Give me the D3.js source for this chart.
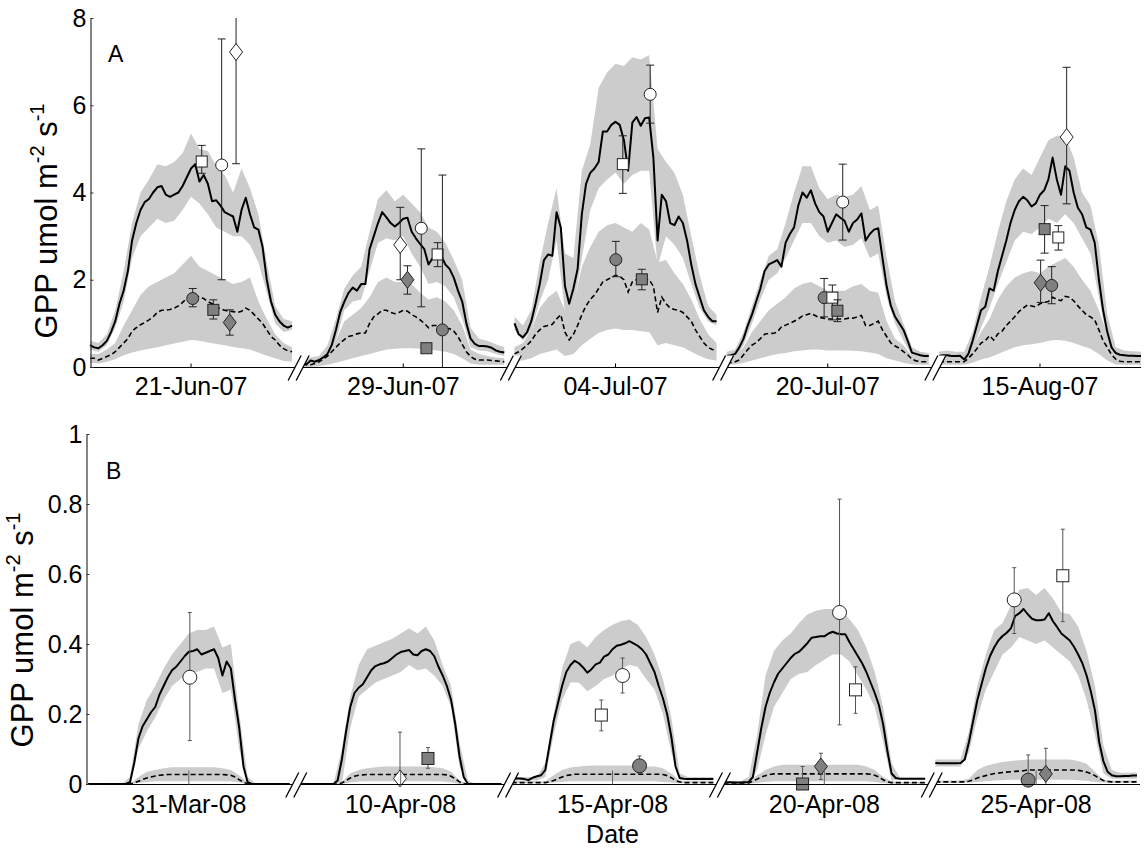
<!DOCTYPE html>
<html>
<head>
<meta charset="utf-8">
<title>GPP diurnal courses</title>
<script src="https://d3js.org/d3.v7.min.js"></script>
<style>
  body { margin: 0; background: #fff; }
  svg { display: block; font-family: "Liberation Sans", Arial, Helvetica, sans-serif; }
</style>
</head>
<body>
<script>
// ---------- data ----------
// half-hourly model output (49 points per day) and hourly envelopes (25 points per day)
var halfHours = d3.range(49).map(function(k) { return k / 2; });
var fullHours = d3.range(25);

var daysA = ["21-Jun-07", "29-Jun-07", "04-Jul-07", "20-Jul-07", "15-Aug-07"];
var daysB = ["31-Mar-08", "10-Apr-08", "15-Apr-08", "20-Apr-08", "25-Apr-08"];
var yTicksA = [0, 2, 4, 6, 8];
var yTicksB = [0, 0.2, 0.4, 0.6, 0.8, 1];

// Panel A - solid line (model 1) and its envelope
var solidA = [
  [0.5,0.45,0.43,0.5,0.6,0.8,1.05,1.45,1.75,2.2,2.9,3.3,3.6,3.78,3.85,4.0,4.12,4.15,3.95,3.9,3.95,4.0,4.15,4.35,4.55,4.65,4.25,4.4,4.2,3.8,3.82,3.7,3.55,3.5,3.45,3.1,3.6,3.88,3.5,3.2,3.15,2.75,2.0,1.5,1.2,1.05,0.95,0.9,0.95],
  [0.12,0.06,0.15,0.12,0.16,0.22,0.3,0.5,0.85,1.25,1.5,1.7,1.82,1.75,1.9,1.9,2.7,3.0,3.3,3.55,3.43,3.3,3.22,3.3,3.4,3.42,3.1,2.95,2.82,2.7,2.35,2.5,2.58,2.55,2.35,2.25,2.05,1.75,1.5,1.0,0.65,0.53,0.48,0.48,0.47,0.44,0.38,0.35,0.33],
  [1.0,0.75,0.68,0.8,1.05,1.45,1.9,2.45,2.58,2.55,3.55,3.2,1.85,1.45,1.8,2.25,3.5,4.2,4.45,4.55,4.7,5.4,5.4,5.55,5.62,5.55,5.2,4.5,5.6,5.73,5.53,5.7,5.72,4.8,2.9,3.95,3.8,3.3,3.25,3.45,3.3,2.9,2.35,1.9,1.6,1.3,1.15,1.05,1.05],
  [0.25,0.27,0.3,0.45,0.65,0.95,1.2,1.5,1.8,2.2,2.35,2.4,2.45,2.3,2.85,3.05,3.2,3.7,4.0,3.88,4.05,3.75,3.55,3.45,3.1,3.3,3.5,3.42,3.35,3.1,3.3,3.38,3.52,2.9,3.05,3.15,3.18,2.5,1.85,1.4,1.15,1.0,0.85,0.6,0.33,0.3,0.27,0.25,0.25],
  [0.25,0.27,0.27,0.25,0.25,0.26,0.17,0.3,0.6,0.95,1.3,1.38,1.8,1.75,2.2,2.55,2.9,3.3,3.6,3.8,3.9,3.82,3.68,3.75,3.95,4.05,4.3,4.8,4.3,3.95,4.6,4.5,4.0,3.65,3.5,3.2,3.15,2.85,2.0,1.3,0.8,0.45,0.32,0.28,0.27,0.26,0.26,0.25,0.25]
];
var solidHiA = [
  [0.6,0.55,0.75,1.3,2.2,3.3,4.0,4.3,4.65,4.6,4.7,4.9,5.35,5.0,4.95,4.6,4.4,4.0,4.55,4.1,3.5,2.4,1.4,1.1,1.05],
  [0.2,0.22,0.25,0.5,1.1,1.8,2.1,2.3,3.1,3.85,4.05,3.8,3.95,3.75,3.55,3.2,3.1,2.85,2.45,2.0,0.9,0.65,0.6,0.52,0.45],
  [1.15,0.95,1.3,2.4,3.3,4.1,2.6,2.5,4.5,5.1,6.4,6.75,6.95,6.9,7.1,7.05,7.15,5.0,4.7,4.45,3.95,3.0,2.1,1.4,1.2],
  [0.35,0.4,0.8,1.4,2.0,2.55,2.7,3.3,4.0,4.6,4.6,4.1,3.85,3.95,3.9,3.95,4.15,3.6,3.7,2.5,1.5,1.0,0.45,0.35,0.32],
  [0.35,0.38,0.35,0.35,0.8,1.6,2.3,3.1,3.8,4.3,4.55,4.4,4.8,5.2,5.3,5.3,4.8,4.0,3.7,2.8,1.2,0.45,0.38,0.36,0.35]
];
var solidLoA = [
  [0.4,0.35,0.5,0.9,1.5,2.5,3.0,3.2,3.4,3.3,3.35,3.6,3.9,3.75,3.5,3.2,3.1,3.0,3.0,2.8,2.4,1.7,1.0,0.8,0.85],
  [0.05,0.05,0.1,0.2,0.6,1.3,1.5,1.55,2.2,2.85,2.95,2.9,3.0,2.6,2.3,1.9,1.95,1.85,1.6,1.1,0.45,0.38,0.36,0.3,0.25],
  [0.85,0.6,0.85,1.5,2.0,2.9,1.25,1.3,2.5,3.6,4.1,4.3,4.45,4.2,4.4,4.5,4.5,2.3,3.0,2.8,2.5,1.9,1.35,1.05,0.95],
  [0.15,0.2,0.5,1.0,1.55,2.0,2.15,2.5,2.9,3.3,3.3,3.0,2.85,2.9,2.75,2.8,2.95,2.5,2.6,1.6,1.0,0.6,0.25,0.2,0.18],
  [0.15,0.15,0.15,0.1,0.4,0.9,1.35,1.9,2.4,2.9,3.1,3.05,3.2,3.4,3.3,3.5,3.3,2.95,2.6,1.6,0.6,0.2,0.16,0.15,0.15]
];

// Panel A - dashed line (model 2) and its envelope
var dashA = [
  [0.2,0.2,0.16,0.2,0.24,0.28,0.35,0.45,0.55,0.65,0.82,0.9,0.97,1.02,1.08,1.15,1.25,1.3,1.3,1.32,1.35,1.4,1.48,1.57,1.62,1.65,1.6,1.57,1.5,1.45,1.38,1.33,1.3,1.28,1.27,1.25,1.28,1.35,1.3,1.2,1.1,1.0,0.85,0.7,0.62,0.5,0.42,0.37,0.35],
  [0.05,0.05,0.05,0.08,0.12,0.18,0.25,0.35,0.45,0.55,0.63,0.7,0.72,0.76,0.78,0.78,1.0,1.15,1.22,1.3,1.3,1.25,1.22,1.25,1.3,1.28,1.2,1.15,1.08,1.0,0.9,0.95,0.95,0.88,0.85,0.88,0.82,0.7,0.52,0.35,0.24,0.18,0.16,0.16,0.16,0.15,0.14,0.13,0.12],
  [0.3,0.35,0.42,0.5,0.6,0.75,0.85,0.93,0.95,0.98,1.1,1.2,0.8,0.62,0.75,0.95,1.2,1.4,1.55,1.65,1.8,1.95,2.0,2.05,2.1,2.08,2.0,1.72,1.95,2.0,2.02,2.0,2.0,1.85,1.25,1.6,1.45,1.35,1.32,1.3,1.25,1.15,1.05,0.85,0.7,0.55,0.45,0.4,0.38],
  [0.1,0.1,0.12,0.16,0.28,0.4,0.5,0.56,0.65,0.75,0.77,0.77,0.8,0.92,0.96,1.0,1.05,1.1,1.17,1.2,1.23,1.18,1.13,1.12,1.1,1.1,1.1,1.1,1.1,1.12,1.12,1.15,1.18,0.95,0.95,1.0,1.05,0.85,0.7,0.55,0.48,0.43,0.35,0.28,0.18,0.14,0.12,0.12,0.12],
  [0.12,0.12,0.12,0.12,0.12,0.12,0.12,0.2,0.3,0.42,0.55,0.6,0.72,0.62,0.76,0.82,0.95,1.05,1.15,1.27,1.35,1.42,1.4,1.38,1.45,1.48,1.5,1.6,1.55,1.52,1.62,1.6,1.52,1.4,1.3,1.2,1.15,1.08,0.85,0.6,0.45,0.28,0.18,0.13,0.12,0.12,0.12,0.12,0.12]
];
var dashHiA = [
  [0.3,0.3,0.4,0.55,0.95,1.3,1.65,1.85,1.95,2.05,2.15,2.35,2.55,2.3,2.2,2.1,2.0,1.9,1.95,2.05,1.5,1.1,0.75,0.55,0.45],
  [0.1,0.1,0.15,0.3,0.6,1.05,1.2,1.35,1.6,1.95,2.05,1.95,1.95,1.9,1.7,1.55,1.6,1.5,1.3,0.95,0.4,0.3,0.25,0.22,0.2],
  [0.45,0.55,0.85,1.35,1.6,1.75,1.3,1.4,2.3,2.75,3.1,3.25,3.3,3.2,3.1,3.3,3.15,2.4,2.45,2.15,1.9,1.55,1.1,0.75,0.55],
  [0.2,0.25,0.45,0.8,1.05,1.3,1.45,1.6,1.8,1.9,1.95,1.85,1.75,1.75,1.75,1.85,1.9,1.75,1.7,1.05,0.65,0.5,0.25,0.2,0.2],
  [0.2,0.2,0.2,0.22,0.45,0.8,1.1,1.55,1.85,2.05,2.15,2.2,2.15,2.3,2.4,2.5,2.3,2.0,1.75,1.3,0.75,0.3,0.22,0.2,0.2]
];
var dashLoA = [
  [0.1,0.08,0.12,0.18,0.27,0.33,0.38,0.42,0.45,0.5,0.54,0.58,0.62,0.6,0.56,0.53,0.5,0.46,0.43,0.4,0.33,0.26,0.2,0.14,0.12],
  [0.0,0.0,0.02,0.05,0.1,0.15,0.2,0.25,0.3,0.35,0.4,0.42,0.43,0.43,0.42,0.4,0.38,0.35,0.3,0.2,0.08,0.05,0.05,0.05,0.05],
  [0.15,0.15,0.2,0.3,0.35,0.4,0.25,0.3,0.5,0.65,0.78,0.85,0.88,0.85,0.85,0.82,0.8,0.5,0.55,0.5,0.45,0.35,0.25,0.18,0.15],
  [0.05,0.06,0.1,0.15,0.2,0.25,0.3,0.32,0.36,0.38,0.4,0.4,0.38,0.38,0.38,0.37,0.36,0.33,0.3,0.2,0.15,0.1,0.06,0.05,0.05],
  [0.05,0.05,0.05,0.05,0.1,0.17,0.22,0.3,0.38,0.45,0.5,0.52,0.55,0.6,0.62,0.6,0.55,0.48,0.42,0.3,0.15,0.06,0.05,0.05,0.05]
];

// Panel B
var solidB = [
  [0,0,0,0,0,0,0,0,0,0,0.005,0.06,0.13,0.165,0.185,0.205,0.22,0.255,0.28,0.305,0.325,0.335,0.35,0.365,0.378,0.38,0.385,0.37,0.375,0.38,0.385,0.36,0.31,0.35,0.33,0.24,0.16,0.05,0.005,0,0,0,0,0,0,0,0,0,0],
  [0,0,0,0,0,0,0,0,0,0.01,0.07,0.15,0.22,0.26,0.275,0.285,0.305,0.325,0.337,0.342,0.345,0.35,0.36,0.37,0.377,0.38,0.383,0.37,0.368,0.38,0.385,0.38,0.365,0.335,0.31,0.28,0.24,0.17,0.08,0.02,0,0,0,0,0,0,0,0,0],
  [0.015,0.016,0.016,0.014,0.011,0.018,0.022,0.025,0.04,0.11,0.18,0.23,0.28,0.32,0.34,0.352,0.345,0.333,0.318,0.328,0.342,0.347,0.364,0.37,0.385,0.395,0.398,0.402,0.408,0.402,0.395,0.385,0.37,0.345,0.32,0.28,0.245,0.2,0.135,0.05,0.017,0.015,0.014,0.014,0.014,0.014,0.014,0.014,0.014],
  [0.005,0.005,0.005,0.004,0.004,0.005,0.006,0.02,0.09,0.16,0.22,0.26,0.29,0.315,0.33,0.345,0.36,0.372,0.378,0.39,0.403,0.418,0.42,0.422,0.422,0.43,0.435,0.43,0.428,0.428,0.405,0.385,0.365,0.345,0.32,0.29,0.26,0.225,0.17,0.095,0.03,0.017,0.015,0.015,0.015,0.015,0.015,0.015,0.015],
  [0.06,0.059,0.059,0.059,0.059,0.059,0.06,0.07,0.12,0.18,0.24,0.285,0.33,0.365,0.39,0.41,0.423,0.432,0.445,0.48,0.488,0.5,0.485,0.472,0.468,0.468,0.47,0.488,0.465,0.448,0.43,0.42,0.41,0.392,0.37,0.345,0.31,0.265,0.21,0.12,0.065,0.035,0.025,0.022,0.022,0.023,0.023,0.024,0.024]
];
var solidHiB = [
  [0,0,0,0,0,0.02,0.17,0.24,0.28,0.33,0.37,0.4,0.43,0.44,0.44,0.45,0.39,0.4,0.2,0.02,0,0,0,0,0],
  [0,0,0,0,0,0.1,0.25,0.34,0.385,0.395,0.405,0.415,0.43,0.445,0.43,0.45,0.41,0.34,0.28,0.12,0.01,0,0,0,0],
  [0.02,0.02,0.02,0.02,0.06,0.2,0.33,0.4,0.41,0.39,0.42,0.44,0.455,0.465,0.47,0.455,0.42,0.37,0.3,0.19,0.03,0.02,0.02,0.02,0.02],
  [0.008,0.008,0.008,0.02,0.14,0.31,0.38,0.41,0.43,0.46,0.485,0.495,0.5,0.5,0.495,0.47,0.44,0.39,0.32,0.22,0.06,0.018,0.018,0.018,0.018],
  [0.07,0.07,0.07,0.07,0.15,0.28,0.37,0.44,0.46,0.51,0.555,0.56,0.54,0.56,0.53,0.49,0.485,0.45,0.38,0.28,0.11,0.04,0.032,0.032,0.033]
];
var solidLoB = [
  [0,0,0,0,0,0,0.1,0.15,0.19,0.24,0.28,0.3,0.32,0.32,0.33,0.33,0.26,0.27,0.1,0,0,0,0,0,0],
  [0,0,0,0,0,0,0.16,0.25,0.27,0.29,0.3,0.31,0.32,0.34,0.325,0.33,0.31,0.28,0.22,0.05,0,0,0,0,0],
  [0.01,0.01,0.01,0.01,0.02,0.14,0.24,0.29,0.29,0.265,0.28,0.3,0.31,0.33,0.34,0.335,0.3,0.27,0.2,0.09,0.012,0.01,0.01,0.01,0.01],
  [0.002,0.002,0.002,0,0.04,0.14,0.22,0.26,0.3,0.315,0.32,0.34,0.355,0.37,0.37,0.35,0.31,0.27,0.22,0.12,0.01,0.012,0.012,0.012,0.012],
  [0.05,0.05,0.05,0.05,0.09,0.19,0.27,0.32,0.37,0.39,0.42,0.41,0.4,0.41,0.39,0.37,0.35,0.31,0.24,0.14,0.03,0.015,0.015,0.015,0.015]
];
var dashB = [
  [0,0,0,0,0,0,0,0,0,0,0,0.003,0.008,0.013,0.017,0.02,0.023,0.025,0.026,0.027,0.027,0.027,0.027,0.027,0.027,0.027,0.027,0.027,0.027,0.027,0.027,0.027,0.027,0.026,0.025,0.02,0.012,0.005,0,0,0,0,0,0,0,0,0,0,0],
  [0,0,0,0,0,0,0,0,0,0,0.003,0.01,0.017,0.022,0.025,0.026,0.027,0.027,0.027,0.027,0.027,0.027,0.027,0.027,0.027,0.027,0.027,0.027,0.027,0.027,0.027,0.027,0.027,0.027,0.027,0.026,0.022,0.015,0.006,0.001,0,0,0,0,0,0,0,0,0],
  [0.004,0.004,0.004,0.004,0.004,0.004,0.004,0.004,0.004,0.006,0.01,0.015,0.02,0.024,0.026,0.028,0.028,0.028,0.028,0.028,0.028,0.028,0.028,0.028,0.028,0.028,0.028,0.028,0.028,0.028,0.028,0.028,0.028,0.028,0.028,0.028,0.027,0.024,0.018,0.01,0.006,0.004,0.004,0.004,0.004,0.004,0.004,0.004,0.004],
  [0.003,0.003,0.003,0.003,0.003,0.003,0.003,0.008,0.014,0.02,0.024,0.027,0.029,0.029,0.029,0.029,0.029,0.029,0.029,0.029,0.029,0.029,0.029,0.029,0.029,0.029,0.029,0.029,0.029,0.029,0.029,0.029,0.029,0.029,0.029,0.028,0.025,0.02,0.012,0.006,0.004,0.004,0.004,0.004,0.004,0.004,0.004,0.004,0.004],
  [0.006,0.006,0.006,0.006,0.006,0.006,0.006,0.006,0.008,0.012,0.017,0.021,0.024,0.027,0.03,0.031,0.033,0.034,0.035,0.036,0.037,0.038,0.04,0.04,0.04,0.04,0.04,0.04,0.04,0.04,0.04,0.04,0.04,0.04,0.039,0.037,0.034,0.03,0.024,0.016,0.01,0.007,0.006,0.006,0.006,0.006,0.006,0.006,0.006]
];
var dashHiB = [
  [0,0,0,0,0,0,0.02,0.035,0.04,0.045,0.048,0.048,0.048,0.048,0.048,0.048,0.045,0.04,0.025,0.005,0,0,0,0,0],
  [0,0,0,0,0,0.005,0.03,0.04,0.045,0.048,0.05,0.05,0.05,0.05,0.05,0.05,0.048,0.045,0.035,0.01,0,0,0,0,0],
  [0.008,0.008,0.008,0.008,0.008,0.025,0.04,0.047,0.05,0.052,0.053,0.053,0.053,0.053,0.053,0.052,0.05,0.05,0.045,0.03,0.01,0.008,0.008,0.008,0.008],
  [0.006,0.006,0.006,0.006,0.025,0.04,0.05,0.055,0.055,0.055,0.055,0.055,0.055,0.055,0.055,0.055,0.055,0.05,0.04,0.02,0.008,0.006,0.006,0.006,0.006],
  [0.01,0.01,0.01,0.01,0.015,0.04,0.052,0.058,0.063,0.066,0.068,0.07,0.07,0.07,0.07,0.07,0.07,0.066,0.058,0.035,0.012,0.01,0.01,0.01,0.01]
];
var dashLoB = [
  [0,0,0,0,0,0,0.003,0.006,0.008,0.008,0.008,0.008,0.008,0.008,0.008,0.008,0.008,0.008,0.005,0,0,0,0,0,0],
  [0,0,0,0,0,0,0.004,0.007,0.008,0.008,0.008,0.008,0.008,0.008,0.008,0.008,0.008,0.007,0.005,0,0,0,0,0,0],
  [0.002,0.002,0.002,0.002,0.002,0.004,0.006,0.008,0.008,0.008,0.008,0.008,0.008,0.008,0.008,0.008,0.008,0.008,0.006,0.004,0.002,0.002,0.002,0.002,0.002],
  [0.001,0.001,0.001,0.001,0.003,0.006,0.008,0.008,0.008,0.008,0.008,0.008,0.008,0.008,0.008,0.008,0.008,0.008,0.006,0.003,0.001,0.001,0.001,0.001,0.001],
  [0.003,0.003,0.003,0.003,0.004,0.006,0.008,0.01,0.011,0.012,0.012,0.012,0.012,0.012,0.012,0.012,0.012,0.011,0.009,0.006,0.004,0.003,0.003,0.003,0.003]
];

// measured points: day index, hour of day, mean, error range, kind of measurement
var markersA = [
  {day:0, hour:12.2,  value:1.57, lo:1.38, hi:1.8,  kind:"grayCircle"},
  {day:0, hour:14.65, value:1.31, lo:1.1,  hi:1.54, kind:"graySquare"},
  {day:0, hour:16.6,  value:1.02, lo:0.73, hi:1.31, kind:"grayDiamond"},
  {day:0, hour:13.27, value:4.71, lo:4.44, hi:5.08, kind:"openSquare"},
  {day:0, hour:15.64, value:4.63, lo:2.0,  hi:7.52, kind:"openCircle"},
  {day:0, hour:17.35, value:7.22, lo:4.66, hi:8.6,  kind:"openDiamond"},
  {day:1, hour:11.64, value:2.8,  lo:2.0,  hi:3.66, kind:"openDiamond"},
  {day:1, hour:12.5,  value:2.0,  lo:1.67, hi:2.32, kind:"grayDiamond"},
  {day:1, hour:14.14, value:3.18, lo:1.38, hi:5.0,  kind:"openCircle"},
  {day:1, hour:14.75, value:0.43, lo:0.4,  hi:0.46, kind:"graySquare"},
  {day:1, hour:16.08, value:2.58, lo:2.3,  hi:2.85, kind:"openSquare"},
  {day:1, hour:16.65, value:0.85, lo:-0.4, hi:4.4,  kind:"grayCircle"},
  {day:2, hour:12.04, value:2.46, lo:2.07, hi:2.88, kind:"grayCircle"},
  {day:2, hour:15.13, value:2.01, lo:1.77, hi:2.24, kind:"graySquare"},
  {day:2, hour:12.87, value:4.65, lo:3.98, hi:5.3,  kind:"openSquare"},
  {day:2, hour:16.12, value:6.25, lo:5.59, hi:6.92, kind:"openCircle"},
  {day:3, hour:11.57, value:1.59, lo:1.15, hi:2.03, kind:"grayCircle"},
  {day:3, hour:12.55, value:1.59, lo:1.08, hi:1.88, kind:"openSquare"},
  {day:3, hour:13.15, value:1.29, lo:1.04, hi:1.54, kind:"graySquare"},
  {day:3, hour:13.78, value:3.78, lo:2.91, hi:4.65, kind:"openCircle"},
  {day:4, hour:12.55, value:3.16, lo:2.61, hi:3.7,  kind:"graySquare"},
  {day:4, hour:14.18, value:2.97, lo:2.68, hi:3.24, kind:"openSquare"},
  {day:4, hour:12.08, value:1.93, lo:1.48, hi:2.45, kind:"grayDiamond"},
  {day:4, hour:13.39, value:1.87, lo:1.45, hi:2.3,  kind:"grayCircle"},
  {day:4, hour:15.17, value:5.27, lo:3.74, hi:6.87, kind:"openDiamond"}
];
var markersB = [
  {day:0, hour:12.12, value:0.305, lo:0.124, hi:0.49,  kind:"openCircle"},
  {day:1, hour:11.92, value:0.016, lo:0.0,   hi:0.148, kind:"openDiamond"},
  {day:1, hour:15.25, value:0.073, lo:0.045, hi:0.104, kind:"graySquare"},
  {day:2, hour:10.67, value:0.197, lo:0.152, hi:0.24,  kind:"openSquare"},
  {day:2, hour:13.2,  value:0.31,  lo:0.26,  hi:0.36,  kind:"openCircle"},
  {day:2, hour:15.22, value:0.052, lo:0.03,  hi:0.08,  kind:"grayCircle"},
  {day:3, hour:9.41,  value:0.0,   lo:0.0,   hi:0.05,  kind:"graySquare"},
  {day:3, hour:11.59, value:0.05,  lo:0.013, hi:0.088, kind:"grayDiamond"},
  {day:3, hour:13.81, value:0.49,  lo:0.169, hi:0.814, kind:"openCircle"},
  {day:3, hour:15.71, value:0.269, lo:0.202, hi:0.335, kind:"openSquare"},
  {day:4, hour:9.39,  value:0.526, lo:0.43,  hi:0.618, kind:"openCircle"},
  {day:4, hour:15.17, value:0.595, lo:0.464, hi:0.728, kind:"openSquare"},
  {day:4, hour:11.05, value:0.011, lo:0.0,   hi:0.083, kind:"grayCircle"},
  {day:4, hour:13.15, value:0.029, lo:0.0,   hi:0.102, kind:"grayDiamond"}
];

// ---------- drawing ----------
var FONT = "'Liberation Sans', Arial, Helvetica, sans-serif";
var bandColor = "#cccccc";
var kindStyle = {
  openCircle:  {shape: "circle",  fill: "#ffffff"},
  openSquare:  {shape: "square",  fill: "#ffffff"},
  openDiamond: {shape: "diamond", fill: "#ffffff"},
  grayCircle:  {shape: "circle",  fill: "#808080"},
  graySquare:  {shape: "square",  fill: "#808080"},
  grayDiamond: {shape: "diamond", fill: "#808080"}
};

var svg = d3.select("body").append("svg")
    .attr("width", 1145)
    .attr("height", 848);

function drawPanel(p) {
  var g = svg.append("g");

  var x = d3.scaleBand().domain(p.days).range(p.xRange).paddingInner(0.048).paddingOuter(0);
  var y = d3.scaleLinear().domain([0, p.yMax]).range([p.bottom, p.top]).clamp(true);

  var bandsG = g.append("g");
  var linesG = g.append("g");
  var marksG = g.append("g");

  p.days.forEach(function(day, i) {
    var xh = d3.scaleLinear().domain([0, 24]).range([x(day), x(day) + x.bandwidth()]);

    var area = d3.area()
        .x(function(d) { return xh(d.h); })
        .y0(function(d) { return y(d.lo); })
        .y1(function(d) { return y(d.hi); });
    var line = d3.line()
        .x(function(d) { return xh(d.h); })
        .y(function(d) { return y(d.v); });

    var solidEnv = fullHours.map(function(h, j) { return {h: h, lo: p.solidLo[i][j], hi: p.solidHi[i][j]}; });
    var dashEnv = fullHours.map(function(h, j) { return {h: h, lo: p.dashLo[i][j], hi: p.dashHi[i][j]}; });
    var solidPts = halfHours.map(function(h, j) { return {h: h, v: p.solid[i][j]}; });
    var dashPts = halfHours.map(function(h, j) { return {h: h, v: p.dash[i][j]}; });

    bandsG.append("path").attr("d", area(solidEnv)).attr("fill", bandColor);
    bandsG.append("path").attr("d", area(dashEnv)).attr("fill", bandColor);

    linesG.append("path").attr("d", line(solidPts))
        .attr("fill", "none").attr("stroke", "#000").attr("stroke-width", 2)
        .attr("stroke-linejoin", "round");
    linesG.append("path").attr("d", line(dashPts))
        .attr("fill", "none").attr("stroke", "#000").attr("stroke-width", 1.6)
        .attr("stroke-dasharray", "5,3");

    // measurements with error bars
    p.markers.filter(function(m) { return m.day === i; }).forEach(function(m) {
      var cx = xh(m.hour), cy = y(m.value);
      var y1 = y(m.lo), y2 = y(m.hi);
      var eg = marksG.append("g");
      eg.append("line").attr("x1", cx).attr("x2", cx).attr("y1", y1).attr("y2", y2)
          .attr("stroke", p.errColor).attr("stroke-width", 1);
      [m.lo, m.hi].forEach(function(v) {
        if (v <= 0 || v >= p.yMax) return;
        eg.append("line").attr("x1", cx - p.capHalf).attr("x2", cx + p.capHalf)
            .attr("y1", y(v)).attr("y2", y(v))
            .attr("stroke", p.errColor).attr("stroke-width", 1);
      });
      var st = kindStyle[m.kind];
      var shp;
      if (st.shape === "circle") {
        shp = eg.append("circle").attr("cx", cx).attr("cy", cy).attr("r", p.circleR);
      } else if (st.shape === "square") {
        shp = eg.append("rect").attr("x", cx - p.square / 2).attr("y", cy - p.square / 2)
            .attr("width", p.square).attr("height", p.square);
      } else {
        var w = p.diamondW / 2, h = p.diamondH / 2;
        shp = eg.append("path").attr("d", "M" + cx + "," + (cy - h) + "L" + (cx + w) + "," + cy +
            "L" + cx + "," + (cy + h) + "L" + (cx - w) + "," + cy + "Z");
      }
      shp.attr("fill", st.fill).attr("stroke", "#222").attr("stroke-width", 1);
    });
  });

  // x axis baseline
  g.append("line")
      .attr("x1", p.axisLeft).attr("x2", p.axisRight)
      .attr("y1", p.bottom + 0.5).attr("y2", p.bottom + 0.5)
      .attr("stroke", "#000").attr("stroke-width", 1.2);

  // x axis ticks and day labels
  var xAxis = g.append("g")
      .attr("transform", "translate(0," + (p.bottom + 0.5) + ")")
      .call(d3.axisBottom(x).tickSizeInner(-p.xTickLen).tickSizeOuter(0).tickPadding(p.xLabelPad));
  xAxis.select(".domain").remove();
  xAxis.selectAll(".tick line").attr("stroke", p.xTickColor);
  xAxis.selectAll("text").attr("font-size", 25).attr("font-family", FONT).attr("fill", "#000");

  // axis breaks between days
  for (var i = 0; i < p.days.length - 1; i++) {
    var gc = x(p.days[i]) + x.bandwidth() + (x.step() - x.bandwidth()) / 2;
    var b = p.bottom + 0.5;
    g.append("polygon")
        .attr("points", [[gc - 9, b + 13], [gc + 4, b - 12], [gc + 12, b - 12], [gc - 1, b + 13]].join(" "))
        .attr("fill", "#fff");
    [[gc - 9, gc + 4], [gc - 1, gc + 12]].forEach(function(s) {
      g.append("line").attr("x1", s[0]).attr("y1", b + 13).attr("x2", s[1]).attr("y2", b - 12)
          .attr("stroke", "#000").attr("stroke-width", 1.3);
    });
  }

  // y axis
  var yAxis = g.append("g")
      .attr("transform", "translate(" + (p.axisLeft + 0.5) + ",0)")
      .call(d3.axisLeft(y).tickValues(p.yTicks).tickSizeInner(-3).tickSizeOuter(0)
          .tickPadding(4).tickFormat(function(d) { return String(d); }));
  yAxis.select(".domain").attr("stroke", "#333").attr("stroke-width", 1.2);
  yAxis.selectAll(".tick line").attr("stroke", "#333");
  yAxis.selectAll("text").attr("font-size", 25).attr("font-family", FONT).attr("fill", "#000");

  // panel letter
  g.append("text").attr("x", p.letterPos[0]).attr("y", p.letterPos[1])
      .attr("font-size", 23).attr("font-family", FONT).text(p.letter);

  // y label with superscripts
  var yl = g.append("text")
      .attr("transform", "translate(" + p.ylabelX + "," + p.ylabelY + ") rotate(-90)")
      .attr("text-anchor", "middle")
      .attr("font-size", 31).attr("font-family", FONT);
  yl.append("tspan").text("GPP umol m");
  yl.append("tspan").attr("dy", -13).attr("font-size", 20).text("-2");
  yl.append("tspan").attr("dy", 13).text(" s");
  yl.append("tspan").attr("dy", -13).attr("font-size", 20).text("-1");

  return x;
}

drawPanel({
  days: daysA, solid: solidA, solidHi: solidHiA, solidLo: solidLoA,
  dash: dashA, dashHi: dashHiA, dashLo: dashLoA, markers: markersA,
  yTicks: yTicksA, yMax: 8,
  xRange: [90, 1141], axisLeft: 90, axisRight: 1141, top: 18, bottom: 367,
  xTickLen: 4, xTickColor: "#000", xLabelPad: 10,
  capHalf: 4, errColor: "#222", circleR: 6, square: 11, diamondW: 13, diamondH: 17,
  letter: "A", letterPos: [108, 62], ylabelX: 57, ylabelY: 221
});

var xB = drawPanel({
  days: daysB, solid: solidB, solidHi: solidHiB, solidLo: solidLoB,
  dash: dashB, dashHi: dashHiB, dashLo: dashLoB, markers: markersB,
  yTicks: yTicksB, yMax: 1,
  xRange: [88, 1137], axisLeft: 86, axisRight: 1140, top: 434, bottom: 784,
  xTickLen: 14, xTickColor: "#666", xLabelPad: 11,
  capHalf: 2, errColor: "#555", circleR: 7, square: 12, diamondW: 13, diamondH: 17,
  letter: "B", letterPos: [106, 479], ylabelX: 33, ylabelY: 630
});

// x axis title
svg.append("text")
    .attr("x", (xB.range()[0] + xB.range()[1]) / 2).attr("y", 843)
    .attr("text-anchor", "middle")
    .attr("font-size", 25).attr("font-family", FONT)
    .text("Date");
</script>
</body>
</html>
